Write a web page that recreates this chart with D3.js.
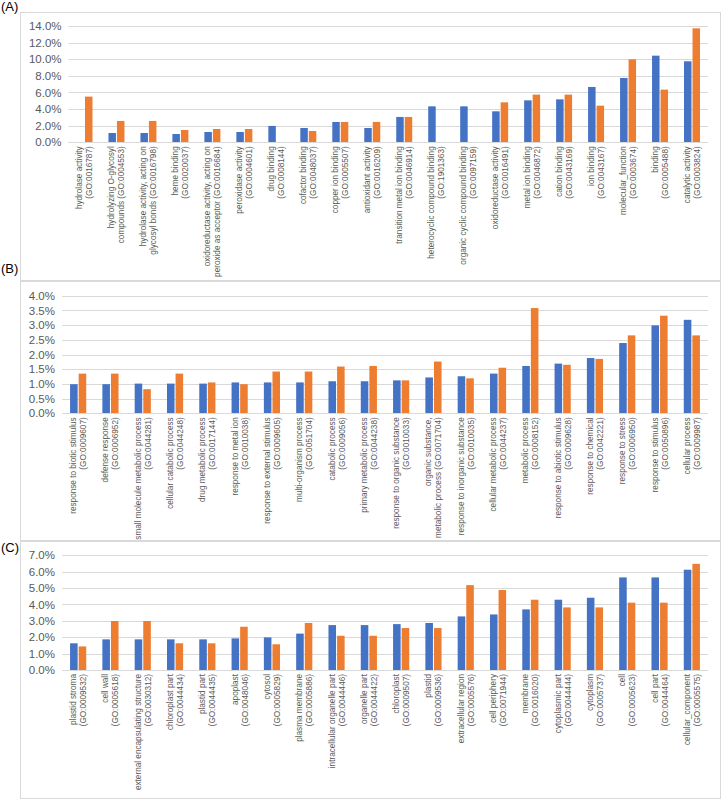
<!DOCTYPE html>
<html><head><meta charset="utf-8">
<script src="https://cdn.jsdelivr.net/npm/d3@7"></script>
<style>
body{margin:0;background:#fff}
svg{display:block}
text{font-family:"Liberation Sans",Arial,sans-serif}
</style>
</head><body>
<svg id="chart" width="722" height="800"></svg>
<script>
// ---------- Panel A: molecular function ----------
const catsA = [
  ["hydrolase activity","(GO:0016787)"],
  ["hydrolyzing O-glycosyl","compounds (GO:0004553)"],
  ["hydrolase activity, acting on","glycosyl bonds (GO:0016798)"],
  ["heme binding","(GO:0020037)"],
  ["oxidoreductase activity, acting on","peroxide as acceptor (GO:0016684)"],
  ["peroxidase activity","(GO:0004601)"],
  ["drug binding","(GO:0008144)"],
  ["cofactor binding","(GO:0048037)"],
  ["copper ion binding","(GO:0005507)"],
  ["antioxidant activity","(GO:0016209)"],
  ["transition metal ion binding","(GO:0046914)"],
  ["heterocyclic compound binding","(GO:1901363)"],
  ["organic cyclic compound binding","(GO:0097159)"],
  ["oxidoreductase activity","(GO:0016491)"],
  ["metal ion binding","(GO:0046872)"],
  ["cation binding","(GO:0043169)"],
  ["ion binding","(GO:0043167)"],
  ["molecular_function","(GO:0003674)"],
  ["binding","(GO:0005488)"],
  ["catalytic activity","(GO:0003824)"]
];
const blueA   = [0, 1.12, 1.12, 1.00, 1.24, 1.24, 1.97, 1.72, 2.45, 1.72, 3.05, 4.33, 4.33, 3.73, 5.05, 5.17, 6.66, 7.74, 10.43, 9.75];
const orangeA = [5.50, 2.57, 2.57, 1.48, 1.60, 1.60, 0, 1.36, 2.45, 2.45, 3.05, 0, 0, 4.81, 5.74, 5.74, 4.41, 9.99, 6.34, 13.72];
const ticksA  = [0, 2, 4, 6, 8, 10, 12, 14];

// ---------- Panel B: biological process ----------
const catsB = [
  ["response to biotic stimulus","(GO:0009607)"],
  ["defense response","(GO:0006952)"],
  ["small molecule metabolic process","(GO:0044281)"],
  ["cellular catabolic process","(GO:0044248)"],
  ["drug metabolic process","(GO:0017144)"],
  ["response to metal ion","(GO:0010038)"],
  ["response to external stimulus","(GO:0009605)"],
  ["multi-organism process","(GO:0051704)"],
  ["catabolic process","(GO:0009056)"],
  ["primary metabolic process","(GO:0044238)"],
  ["response to organic substance","(GO:0010033)"],
  ["organic substance,","metabolic process (GO:0071704)"],
  ["response to inorganic substance","(GO:0010035)"],
  ["cellular metabolic process","(GO:0044237)"],
  ["metabolic process","(GO:0008152)"],
  ["response to abiotic stimulus","(GO:0009628)"],
  ["response to chemical","(GO:0042221)"],
  ["response to stress","(GO:0006950)"],
  ["response to stimulus","(GO:0050896)"],
  ["cellular process","(GO:0009987)"]
];
const blueB   = [0.99, 0.99, 1.01, 1.01, 1.01, 1.05, 1.05, 1.05, 1.09, 1.09, 1.12, 1.22, 1.26, 1.35, 1.61, 1.69, 1.88, 2.39, 2.99, 3.18];
const orangeB = [1.35, 1.35, 0.82, 1.35, 1.05, 0.99, 1.42, 1.42, 1.59, 1.61, 1.12, 1.76, 1.19, 1.55, 3.58, 1.65, 1.85, 2.65, 3.32, 2.65];
const ticksB  = [0, 0.5, 1, 1.5, 2, 2.5, 3, 3.5, 4];

// ---------- Panel C: cellular component ----------
const catsC = [
  ["plastid stroma","(GO:0009532)"],
  ["cell wall","(GO:0005618)"],
  ["external encapsulating structure","(GO:0030312)"],
  ["chloroplast part","(GO:0044434)"],
  ["plastid part","(GO:0044435)"],
  ["apoplast","(GO:0048046)"],
  ["cytosol","(GO:0005829)"],
  ["plasma membrane","(GO:0005886)"],
  ["intracellular organelle part","(GO:0044446)"],
  ["organelle part","(GO:0044422)"],
  ["chloroplast","(GO:0009507)"],
  ["plastid","(GO:0009536)"],
  ["extracellular region","(GO:0005576)"],
  ["cell periphery","(GO:0071944)"],
  ["membrane","(GO:0016020)"],
  ["cytoplasmic part","(GO:0044444)"],
  ["cytoplasm","(GO:0005737)"],
  ["cell","(GO:0005623)"],
  ["cell part","(GO:0044464)"],
  ["cellular_component","(GO:0005575)"]
];
const blueC   = [1.63, 1.87, 1.87, 1.87, 1.87, 1.93, 1.99, 2.22, 2.74, 2.74, 2.80, 2.87, 3.27, 3.39, 3.70, 4.29, 4.41, 5.65, 5.65, 6.12];
const orangeC = [1.44, 2.99, 2.99, 1.63, 1.63, 2.64, 1.57, 2.87, 2.09, 2.09, 2.56, 2.56, 5.18, 4.88, 4.29, 3.82, 3.82, 4.11, 4.11, 6.48];
const ticksC  = [0, 1, 2, 3, 4, 5, 6, 7];

const seriesKeys = ["blue", "orange"];
const colors = {blue: "#4472C4", orange: "#ED7D31"};

const svg = d3.select("#chart");
const frameLayer = svg.append("g");
const contentLayer = svg.append("g");

function panel(cfg) {
  frameLayer.append("rect")
    .attr("x", cfg.frame[0] + 0.5).attr("y", cfg.frame[1] + 0.5)
    .attr("width", cfg.frame[2]).attr("height", cfg.frame[3])
    .attr("fill", "none").attr("stroke", "#D9D9D9").attr("stroke-width", 1);
  const g = contentLayer.append("g");
  g.append("text").attr("x", 1).attr("y", cfg.letterY)
    .attr("font-size", 13).attr("fill", "#000").text(cfg.letter);

  const y = d3.scaleLinear().domain([0, d3.max(cfg.ticks)]).range([cfg.y0, cfg.yTop]);
  const x = d3.scaleBand().domain(d3.range(cfg.cats.length))
    .range([cfg.left, cfg.right]).paddingInner(0.5).paddingOuter(0.25);
  const xs = d3.scaleBand().domain(seriesKeys).range([0, x.bandwidth()]).paddingInner(0.12);

  g.selectAll(".grid").data(cfg.ticks).join("line")
    .attr("x1", cfg.left).attr("x2", cfg.right)
    .attr("y1", d => Math.round(y(d)) + 0.5).attr("y2", d => Math.round(y(d)) + 0.5)
    .attr("stroke", "#D9D9D9").attr("stroke-width", 1);

  const axis = d3.axisLeft(y).tickValues(cfg.ticks)
    .tickFormat(d => d.toFixed(1) + "%").tickSize(0).tickPadding(7);
  const ag = g.append("g").attr("transform", `translate(${cfg.left},0)`).call(axis);
  ag.select(".domain").remove();
  ag.selectAll("text").attr("font-size", 11.5).attr("fill", "#595959")
    .attr("font-family", '"Liberation Sans",Arial,sans-serif');

  const rows = cfg.cats.map((c, i) => ({i, blue: cfg.blue[i], orange: cfg.orange[i]}));
  const cg = g.selectAll(".cat").data(rows).join("g")
    .attr("transform", d => `translate(${x(d.i)},0)`);
  cg.selectAll("rect").data(d => seriesKeys.map(k => ({k, v: d[k]}))).join("rect")
    .attr("x", d => xs(d.k)).attr("width", xs.bandwidth())
    .attr("y", d => y(d.v)).attr("height", d => y(0) - y(d.v))
    .attr("fill", d => colors[d.k]);

  g.append("line").attr("x1", cfg.left).attr("x2", cfg.right)
    .attr("y1", Math.round(y(0)) + 0.5).attr("y2", Math.round(y(0)) + 0.5)
    .attr("stroke", "#D9D9D9");

  const lh = 10;
  cfg.cats.forEach((lines, i) => {
    const cx = x(i) + x.bandwidth() / 2;
    const t = g.append("text")
      .attr("transform", `translate(${cx},${y(0) + 4}) rotate(-90)`)
      .attr("text-anchor", "end").attr("font-size", 8.2).attr("fill", "#595959");
    lines.forEach((ln, j) => {
      t.append("tspan").attr("x", 0)
        .attr("y", (j - (lines.length - 1) / 2) * lh + 3)
        .text(ln);
    });
  });
}

panel({letter: "(A)", letterY: 11, frame: [20, 12, 700, 268], cats: catsA, blue: blueA, orange: orangeA,
       ticks: ticksA, left: 68.5, right: 708, y0: 142.3, yTop: 26});
panel({letter: "(B)", letterY: 273, frame: [20, 281, 700, 259], cats: catsB, blue: blueB, orange: orangeB,
       ticks: ticksB, left: 62, right: 708, y0: 413.3, yTop: 295.7});
panel({letter: "(C)", letterY: 552, frame: [20, 541, 700, 257], cats: catsC, blue: blueC, orange: orangeC,
       ticks: ticksC, left: 62, right: 708, y0: 670, yTop: 555.3});
</script>
</body></html>
